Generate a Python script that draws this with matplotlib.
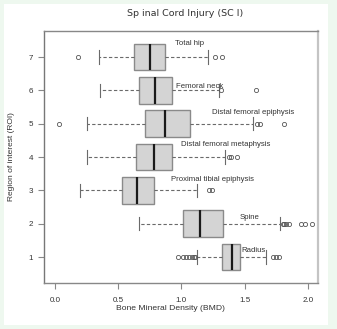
import matplotlib.pyplot as plt
from matplotlib.patches import Rectangle

# regions 1..7 (bottom to top)
regions = ["Radius", "Spine", "Proximal tibial epiphysis", "Distal femoral metaphysis",
           "Distal femoral epiphysis", "Femoral neck", "Total hip"]
q1 = [1.32, 1.015, 0.53, 0.64, 0.712, 0.664, 0.628]
med = [1.397, 1.146, 0.646, 0.783, 0.873, 0.796, 0.749]
q3 = [1.463, 1.331, 0.783, 0.93, 1.07, 0.928, 0.87]
whislo = [1.126, 0.667, 0.203, 0.251, 0.251, 0.359, 0.348]
whishi = [1.668, 1.779, 1.125, 1.347, 1.568, 1.294, 1.207]
fliers = [
    [0.97, 1.012, 1.039, 1.059, 1.081, 1.099, 1.11, 1.727, 1.748, 1.768],
    [1.80, 1.815, 1.83, 1.853, 1.942, 1.98, 2.029],
    [1.217, 1.244],
    [1.379, 1.394, 1.442],
    [0.032, 1.60, 1.62, 1.81],
    [1.31, 1.594],
    [0.185, 1.27, 1.318],
]
# label anchor points (x, y) for the region names
label_x = [1.476, 1.46, 0.922, 0.994, 1.241, 0.96, 0.948]
label_y = [1.2, 2.2, 3.34, 4.37, 5.35, 6.11, 7.4]

title = "Sp inal Cord Injury (SC I)"
xlab = "Bone Mineral Density (BMD)"
ylab = "Region of interest (ROI)"

plt.rcParams['font.family'] = ['Liberation Sans', 'DejaVu Sans']

fig = plt.figure(figsize=(3.37, 3.29), dpi=100, facecolor="#eef8ef")
fig.patches.append(Rectangle((4 / 337, 4 / 329), 324 / 337, 321 / 329,
                             transform=fig.transFigure, facecolor="white",
                             edgecolor="none", zorder=-5))
ax = fig.add_axes([44 / 337, 1 - 283 / 329, 274 / 337, 252 / 329])
ax.set_facecolor("white")

stats = []
for i in range(len(regions)):
    stats.append(dict(med=med[i], q1=q1[i], q3=q3[i], whislo=whislo[i],
                      whishi=whishi[i], fliers=fliers[i]))

ax.bxp(stats, positions=range(1, 8), widths=0.8, capwidths=0.4,
       orientation="horizontal", patch_artist=True,
       boxprops=dict(facecolor="#d4d4d4", edgecolor="#8a8a8a", linewidth=1.0),
       medianprops=dict(color="#1a1a1a", linewidth=1.6),
       whiskerprops=dict(color="#6a6a6a", linewidth=0.8, linestyle=(0, (3, 2))),
       capprops=dict(color="#6a6a6a", linewidth=0.8),
       flierprops=dict(marker="o", markersize=3, markerfacecolor="none",
                       markeredgecolor="#555555", markeredgewidth=0.6))

for i, name in enumerate(regions):
    ax.text(label_x[i], label_y[i], name, fontsize=5.6, color="#333333",
            ha="left", va="center")

ax.set_xlim(-0.085, 2.08)
ax.set_ylim(0.22, 7.78)
ax.set_xticks([0.0, 0.5, 1.0, 1.5, 2.0])
ax.set_xticklabels(["0.0", "0.5", "1.0", "1.5", "2.0"])
ax.set_yticks(range(1, 8))
ax.set_yticklabels([str(i) for i in range(1, 8)])
ax.tick_params(axis="both", labelsize=5.8, colors="#888888", labelcolor="#333333",
               length=4, width=0.8)
ax.tick_params(axis="x", pad=6)
ax.tick_params(axis="y", pad=4)

ax.spines["top"].set_color("#888888")
ax.spines["left"].set_color("#777777")
ax.spines["bottom"].set_color("#888888")
ax.spines["right"].set_color("#c4c4c4")
ax.spines["right"].set_linewidth(1.6)
for s in ["top", "left", "bottom"]:
    ax.spines[s].set_linewidth(1.0)

fig.text(185 / 337, 1 - 14 / 329, title, fontsize=6.8, color="#333333",
         ha="center", va="center", family=["DejaVu Sans"])
fig.text(170 / 337, 1 - 309 / 329, xlab, fontsize=6.1, color="#333333",
         ha="center", va="center")
fig.text(12 / 337, 1 - 157 / 329, ylab, fontsize=6.0, color="#333333",
         ha="center", va="center", rotation=90)

fig.savefig("out.png", dpi=100, facecolor=fig.get_facecolor())
